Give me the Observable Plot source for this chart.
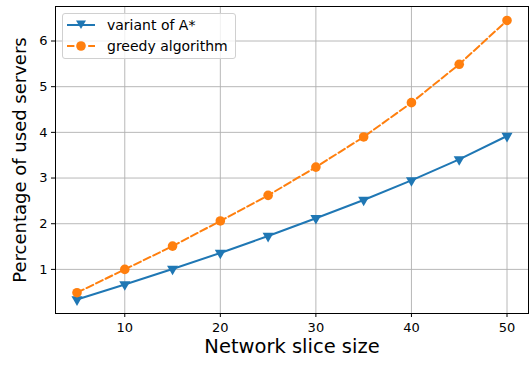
<!DOCTYPE html>
<html>
<head>
<meta charset="utf-8">
<script src="https://cdn.jsdelivr.net/npm/d3@7"></script>
<script src="https://cdn.jsdelivr.net/npm/@observablehq/plot@0.6"></script>
<style>
  body { margin: 0; background: #fff; }
  #wrap { position: relative; width: 532px; height: 366px; font-family: "DejaVu Sans", sans-serif; }
  #legend { position: absolute; left: 62px; top: 13px; width: 174px; height: 46px; box-sizing: border-box;
            border: 1px solid #d0d0d0; border-radius: 3px; background: rgba(255,255,255,0.8); }
  .row { position: absolute; left: 3px; height: 20px; display: flex; align-items: center; font-size: 14px; color: #000; }
  .row svg { margin-right: 11px; }
</style>
</head>
<body>
<div id="wrap"></div>
<script>
const sliceSizes = [5, 10, 15, 20, 25, 30, 35, 40, 45, 50];
const variantA = [0.34, 0.67, 1.01, 1.36, 1.73, 2.12, 2.52, 2.95, 3.41, 3.92];
const greedy = [0.49, 1.00, 1.51, 2.06, 2.62, 3.24, 3.90, 4.65, 5.49, 6.45];
const seriesNames = ["variant of A*", "greedy algorithm"];
const xTicks = [10, 20, 30, 40, 50];
const yTicks = [1, 2, 3, 4, 5, 6];
const xLabel = "Network slice size";
const yLabel = "Percentage of used servers";

const blue = "#1f77b4", orange = "#ff7f0e";
const dataA = sliceSizes.map((x, i) => ({x, y: variantA[i]}));
const dataG = sliceSizes.map((x, i) => ({x, y: greedy[i]}));

const allY = variantA.concat(greedy);
const yMin = d3.min(allY), yMax = d3.max(allY);
const yPad = (yMax - yMin) * 0.05;
const xPad = (d3.max(sliceSizes) - d3.min(sliceSizes)) * 0.05;

const chart = Plot.plot({
  width: 532, height: 366,
  marginLeft: 55, marginRight: 4, marginTop: 6, marginBottom: 53,
  style: { fontFamily: "DejaVu Sans, sans-serif", fontSize: "13px", color: "#000", background: "#fff" },
  x: { domain: [d3.min(sliceSizes) - xPad, d3.max(sliceSizes) + xPad] },
  y: { domain: [yMin - yPad, yMax + yPad] },
  marks: [
    Plot.gridX(xTicks, { stroke: "#b0b0b0", strokeOpacity: 1, strokeWidth: 0.9 }),
    Plot.gridY(yTicks, { stroke: "#b0b0b0", strokeOpacity: 1, strokeWidth: 0.9 }),
    Plot.axisX(xTicks, { tickSize: 4, tickPadding: 5.5, fontSize: 13, label: null, stroke: "#000" }),
    Plot.axisY(yTicks, { tickSize: 4, tickPadding: 4, fontSize: 13, label: null, stroke: "#000" }),
    Plot.line(dataA, { x: "x", y: "y", stroke: blue, strokeWidth: 2 }),
    Plot.dot(dataA, { x: "x", y: "y", symbol: "triangle", rotate: 180, r: 4.1, fill: blue, stroke: null }),
    Plot.line(dataG, { x: "x", y: "y", stroke: orange, strokeWidth: 2, strokeDasharray: "7.4,3.2" }),
    Plot.dot(dataG, { x: "x", y: "y", symbol: "circle", r: 4.8, fill: orange, stroke: null }),
    Plot.frame({ stroke: "#000", strokeWidth: 1 }),
    Plot.text([xLabel], { frameAnchor: "bottom", dy: 39, fontSize: 19.5, text: d => d, fill: "#000" }),
    Plot.text([yLabel], { frameAnchor: "left", textAnchor: "middle", dx: -35, rotate: -90, fontSize: 18, text: d => d, fill: "#000" })
  ]
});
const wrap = document.getElementById("wrap");
wrap.appendChild(chart);

const legend = document.createElement("div");
legend.id = "legend";
const rows = [
  { name: seriesNames[0], color: blue, dash: null, marker: "tri" },
  { name: seriesNames[1], color: orange, dash: "7.4,3.2", marker: "circle" }
];
rows.forEach((r, i) => {
  const row = document.createElement("div");
  row.className = "row";
  row.style.top = (i === 0 ? 1 : 22) + "px";
  const marker = r.marker === "tri"
    ? `<path d="M10,5.5 L20,5.5 L15,14 Z" fill="${r.color}"/>`
    : `<circle cx="15" cy="10" r="4.8" fill="${r.color}"/>`;
  row.innerHTML = `<svg width="30" height="20"><line x1="1" x2="29" y1="10" y2="10" stroke="${r.color}" stroke-width="2" ${r.dash ? `stroke-dasharray="${r.dash}"` : ""}/>${marker}</svg><span>${r.name}</span>`;
  legend.appendChild(row);
});
wrap.appendChild(legend);
</script>
</body>
</html>
